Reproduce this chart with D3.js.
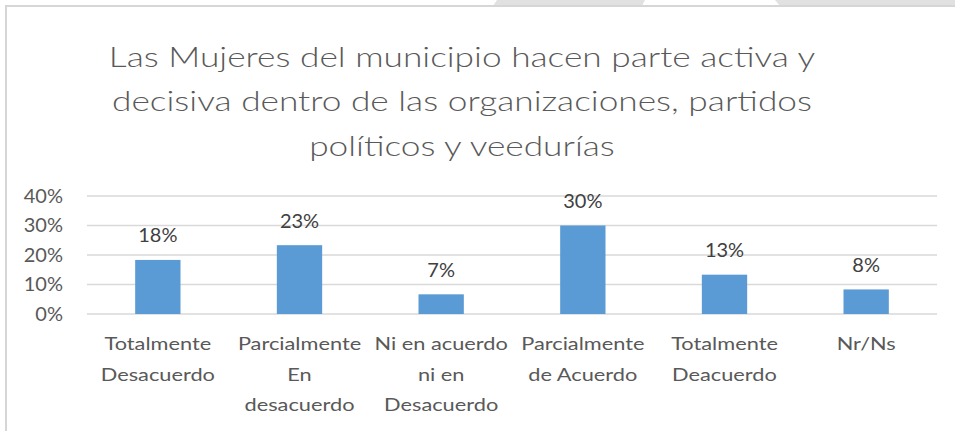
<!DOCTYPE html>
<html>
<head>
<meta charset="utf-8">
<script src="https://cdn.jsdelivr.net/npm/d3@7"></script>
<style>
  body { margin: 0; background: #fff; }
  text { font-family: Lato, "Open Sans", sans-serif; }
</style>
</head>
<body>
<script>
// chart data
var categories = [
  "Totalmente\nDesacuerdo",
  "Parcialmente\nEn\ndesacuerdo",
  "Ni en acuerdo\nni en\nDesacuerdo",
  "Parcialmente\nde Acuerdo",
  "Totalmente\nDeacuerdo",
  "Nr/Ns"
];
var values = [0.1833, 0.2333, 0.0667, 0.30, 0.1333, 0.0833];
var yTicks = [0, 0.1, 0.2, 0.3, 0.4];
var titleLines = [
  "Las Mujeres del municipio hacen parte activa y",
  "decisiva dentro de las organizaciones, partidos",
  "políticos y veedurías"
];

// define svg
var W = 955, H = 431;
var svg = d3.select("body")
  .append("svg")
  .attr("width", W)
  .attr("height", H);

// page decoration at the top (shapes behind the chart frame)
svg.append("path")
  .attr("d", "M497,0 L645,0 L642,6 L493,6 Z")
  .attr("fill", "#e1e1e1");
svg.append("path")
  .attr("d", "M775,0 L955,0 L955,6 L780,6 Z")
  .attr("fill", "#e1e1e1");

// chart frame
svg.append("rect")
  .attr("x", 6).attr("y", 6)
  .attr("width", 1000).attr("height", 500)
  .attr("fill", "#fff")
  .attr("stroke", "#d6d6d6")
  .attr("stroke-width", 2);

// title (the original font is narrower-looking but stretched wide, so scale x)
var title = svg.append("text")
  .attr("transform", "translate(462,0) scale(1.26,1)")
  .attr("text-anchor", "middle")
  .attr("fill", "#595959")
  .attr("font-weight", 300)
  .attr("font-size", 28);
title.selectAll("tspan")
  .data(titleLines)
  .enter().append("tspan")
  .attr("x", 0)
  .attr("y", function(d, i) { return 67 + i * 44.5; })
  .text(function(d) { return d; });

// scales
var x = d3.scaleBand()
  .domain(categories)
  .range([87, 937])
  .paddingInner(0.68)
  .paddingOuter(0.34);

var y = d3.scaleLinear()
  .domain([0, 0.4])
  .range([314, 196]);

// gridlines
svg.append("g")
  .selectAll("line")
  .data(yTicks)
  .enter().append("line")
  .attr("x1", 87).attr("x2", 937)
  .attr("y1", function(d) { return y(d); })
  .attr("y2", function(d) { return y(d); })
  .attr("stroke", "#d9d9d9")
  .attr("stroke-width", 1.5);

// y axis labels
var yAxis = svg.append("g")
  .attr("transform", "translate(87,0)")
  .call(d3.axisLeft(y)
    .tickValues(yTicks)
    .tickFormat(d3.format(".0%"))
    .tickSize(0)
    .tickPadding(24));
yAxis.select(".domain").remove();
yAxis.selectAll("text")
  .attr("font-size", 20)
  .attr("font-family", "Lato, sans-serif")
  .attr("fill", "#595959");

// bars
svg.append("g")
  .selectAll("rect")
  .data(values)
  .enter().append("rect")
  .attr("x", function(d, i) { return x(categories[i]); })
  .attr("width", x.bandwidth())
  .attr("y", function(d) { return y(d); })
  .attr("height", function(d) { return y(0) - y(d); })
  .attr("fill", "#5b9bd5");

// value labels
svg.append("g")
  .selectAll("text")
  .data(values)
  .enter().append("text")
  .attr("x", function(d, i) { return x(categories[i]) + x.bandwidth() / 2; })
  .attr("y", function(d) { return y(d) - 17.5; })
  .attr("text-anchor", "middle")
  .attr("font-size", 20)
  .attr("fill", "#404040")
  .text(function(d) { return d3.format(".0%")(d); });

// category labels
var cat = svg.append("g")
  .selectAll("text")
  .data(categories)
  .enter().append("text")
  .attr("transform", function(d) {
    return "translate(" + (x(d) + x.bandwidth() / 2) + ",0) scale(1.21,1)";
  })
  .attr("text-anchor", "middle")
  .attr("font-size", 18)
  .attr("fill", "#595959");
cat.selectAll("tspan")
  .data(function(d) { return d.split("\n"); })
  .enter().append("tspan")
  .attr("x", 0)
  .attr("y", function(d, i) { return 350.5 + i * 30.5; })
  .text(function(d) { return d; });
</script>
</body>
</html>
